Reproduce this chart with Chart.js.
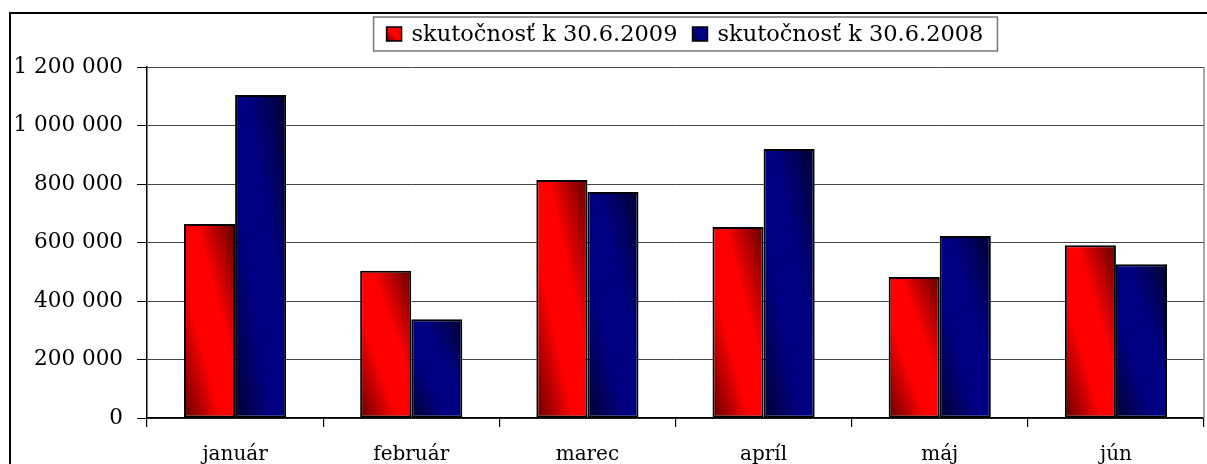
<!DOCTYPE html>
<html>
<head>
<meta charset="utf-8">
<script src="https://cdn.jsdelivr.net/npm/chart.js@4.4.1/dist/chart.umd.min.js"></script>
<style>
  html, body { margin: 0; padding: 0; background: #fff; overflow: hidden; width: 1207px; height: 464px; }
  #frame { position: absolute; left: 9px; top: 12px; width: 1400px; height: 500px;
           border-left: 2px solid #000; border-top: 2px solid #000; }
  #wrap { position: absolute; left: 11px; top: 14px; width: 1349px; height: 450px; }
</style>
</head>
<body>
<div id="frame"></div>
<div id="wrap"><canvas id="c" width="1349" height="450"></canvas></div>
<script>
const categories = ['január', 'február', 'marec', 'apríl', 'máj', 'jún'];
const seriesLabels = ['skutočnosť k 30.6.2009', 'skutočnosť k 30.6.2008'];
const values2009 = [663000, 503000, 814000, 653000, 482000, 591000];
const values2008 = [1104000, 338000, 773000, 920000, 622000, 526000];
const yMin = 0;
const yMax = 1200000;
const yStep = 200000;

const FONT = '"DejaVu Serif", serif';
const palettes = [
  { dark: '#600000', bright: '#ff0000' },
  { dark: '#000030', bright: '#000082' }
];

function fmt(v) {
  return String(v).replace(/\B(?=(\d{3})+(?!\d))/g, ' ');
}

const gradientPlugin = {
  id: 'diagGradient',
  beforeDatasetsDraw(chart) {
    const ctx = chart.ctx;
    chart.data.datasets.forEach((ds, di) => {
      const meta = chart.getDatasetMeta(di);
      const pal = palettes[di];
      meta.data.forEach(el => {
        const p = el.getProps(['x', 'y', 'base', 'width'], true);
        const left = p.x - p.width / 2, right = p.x + p.width / 2;
        const top = Math.min(p.y, p.base), bottom = Math.max(p.y, p.base);
        const w = right - left, h = bottom - top;
        const L = Math.sqrt(w * w + h * h) || 1;
        const dx = h / L, dy = -w / L;
        const k = (h * w) / L;
        const cx = left + w / 2, cy = top + h / 2;
        const g = ctx.createLinearGradient(cx - dx * k, cy - dy * k, cx + dx * k, cy + dy * k);
        g.addColorStop(0, pal.dark);
        g.addColorStop(0.36, pal.bright);
        g.addColorStop(0.62, pal.bright);
        g.addColorStop(1, pal.dark);
        el.options = Object.assign({}, el.options, { backgroundColor: g });
      });
    });
  }
};

const framePlugin = {
  id: 'plotFrame',
  afterDraw(chart) {
    const { ctx, chartArea: a } = chart;
    ctx.save();
    ctx.strokeStyle = '#8a8a8a';
    ctx.lineWidth = 1.5;
    ctx.beginPath();
    ctx.moveTo(a.right, a.top);
    ctx.lineTo(a.right, a.bottom);
    ctx.stroke();
    ctx.restore();
  }
};

const legendPlugin = {
  id: 'boxLegend',
  afterDraw(chart) {
    const ctx = chart.ctx;
    ctx.save();
    ctx.font = '22.5px ' + FONT;
    const padL = 13, sw = 15, sh = 14, gap = 10, itemGap = 15, padR = 14;
    const widths = chart.data.datasets.map(d => ctx.measureText(d.label).width);
    let total = padL + padR;
    widths.forEach((tw, i) => { total += sw + gap + tw + (i < widths.length - 1 ? itemGap : 0); });
    const boxTop = 3, boxH = 34;
    const boxLeft = chart.width / 2 - total / 2;
    ctx.fillStyle = '#fff';
    ctx.fillRect(boxLeft, boxTop, total, boxH);
    ctx.strokeStyle = '#777';
    ctx.lineWidth = 1.5;
    ctx.strokeRect(boxLeft, boxTop, total, boxH);
    let x = boxLeft + padL;
    const cy = boxTop + boxH / 2;
    chart.data.datasets.forEach((d, i) => {
      const g = ctx.createLinearGradient(x, cy + sh / 2, x + sw, cy - sh / 2);
      g.addColorStop(0, palettes[i].dark);
      g.addColorStop(0.45, palettes[i].bright);
      g.addColorStop(1, palettes[i].bright);
      ctx.fillStyle = g;
      ctx.fillRect(x, cy - sh / 2, sw, sh);
      ctx.strokeStyle = '#000';
      ctx.lineWidth = 1.5;
      ctx.strokeRect(x, cy - sh / 2, sw, sh);
      x += sw + gap;
      ctx.fillStyle = '#000';
      ctx.textBaseline = 'middle';
      ctx.textAlign = 'left';
      ctx.fillText(d.label, x, cy + 1);
      x += widths[i] + itemGap;
    });
    ctx.restore();
  }
};

new Chart(document.getElementById('c'), {
  type: 'bar',
  data: {
    labels: categories,
    datasets: [
      { label: seriesLabels[0], data: values2009, backgroundColor: palettes[0].bright, borderColor: '#000', borderWidth: 2, borderSkipped: false },
      { label: seriesLabels[1], data: values2008, backgroundColor: palettes[1].bright, borderColor: '#000', borderWidth: 2, borderSkipped: false }
    ]
  },
  plugins: [gradientPlugin, framePlugin, legendPlugin],
  options: {
    responsive: false,
    animation: false,
    layout: { padding: { top: 53, right: 156, left: 0, bottom: 0 } },
    datasets: { bar: { barPercentage: 1.0, categoryPercentage: 0.58 } },
    plugins: { legend: { display: false }, tooltip: { enabled: false } },
    scales: {
      x: {
        afterFit(s) { s.height = 46; },
        grid: { drawOnChartArea: false, drawTicks: true, tickLength: 9, offset: true, color: '#000', lineWidth: 1.2 },
        border: { color: '#000', width: 1.5 },
        ticks: { color: '#000', font: { family: FONT, size: 20 }, padding: 16, maxRotation: 0 }
      },
      y: {
        min: yMin,
        max: yMax,
        afterFit(s) { s.width = 136; },
        grid: { color: '#444', lineWidth: 1, tickLength: 10, tickColor: '#000' },
        border: { color: '#000', width: 1.5 },
        ticks: { stepSize: yStep, color: '#000', font: { family: FONT, size: 21.5 }, padding: 14,
                 callback: v => fmt(v) }
      }
    }
  }
});
</script>
</body>
</html>
